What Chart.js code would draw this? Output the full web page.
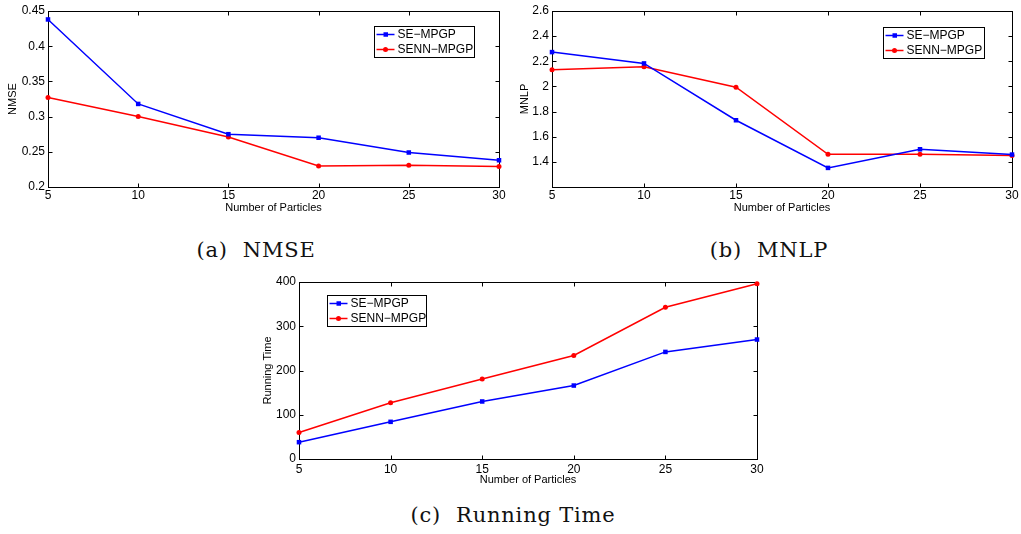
<!DOCTYPE html>
<html>
<head>
<meta charset="utf-8">
<script src="https://cdn.jsdelivr.net/npm/chart.js@4/dist/chart.umd.min.js"></script>
<style>
  html, body { margin: 0; padding: 0; background: #fff; }
  body { position: relative; width: 1021px; height: 534px; overflow: hidden; }
  canvas { position: absolute; }
  .cap {
    position: absolute; transform: translateX(-50%); white-space: pre;
    font-family: "DejaVu Serif", "Liberation Serif", serif; font-size: 21px;
    letter-spacing: 0.8px; line-height: 22px; color: #111;
  }
</style>
</head>
<body>
<canvas id="chNmse" width="510" height="222" style="left:0;top:0"></canvas>
<canvas id="chMnlp" width="511" height="222" style="left:510px;top:0"></canvas>
<canvas id="chTime" width="520" height="222" style="left:250px;top:270px"></canvas>
<div class="cap" style="left:256px;top:239px">(a)  NMSE</div>
<div class="cap" style="left:769px;top:239px">(b)  MNLP</div>
<div class="cap" style="left:513px;top:504px">(c)  Running Time</div>
<script>
// Número de partículas en el eje x, común a las tres figuras
const particles = [5, 10, 15, 20, 25, 30];

// (a) NMSE
const nmseSE   = [0.438, 0.318, 0.275, 0.270, 0.249, 0.238];
const nmseSENN = [0.327, 0.300, 0.271, 0.230, 0.231, 0.229];

// (b) MNLP
const mnlpSE   = [2.273, 2.183, 1.731, 1.352, 1.500, 1.458];
const mnlpSENN = [2.132, 2.156, 1.994, 1.460, 1.460, 1.450];

// (c) Running Time
const timeSE   = [38, 84, 130, 166, 242, 270];
const timeSENN = [60, 127, 181, 234, 343, 396];

const SANS = '"Liberation Sans", Arial, sans-serif';
const BLUE = '#0000ff';
const RED = '#ff0000';

const pts = (ys) => particles.map((x, i) => ({ x, y: ys[i] }));

// Caja tipo MATLAB: marco negro y marcas de tick hacia adentro en los cuatro lados
const boxPlugin = {
  id: 'boxFrame',
  beforeDatasetsDraw(chart) {
    const { ctx, chartArea: a, scales: { x, y } } = chart;
    const L = 4;
    const l = Math.round(a.left) + 0.5, r = Math.round(a.right) + 0.5;
    const t = Math.round(a.top) + 0.5, b = Math.round(a.bottom) + 0.5;
    ctx.save();
    ctx.strokeStyle = '#000';
    ctx.lineWidth = 1;
    ctx.beginPath();
    for (const tk of x.ticks) {
      const px = Math.round(x.getPixelForValue(tk.value)) + 0.5;
      ctx.moveTo(px, b); ctx.lineTo(px, b - L);
      ctx.moveTo(px, t); ctx.lineTo(px, t + L);
    }
    for (const tk of y.ticks) {
      const py = Math.round(y.getPixelForValue(tk.value)) + 0.5;
      ctx.moveTo(l, py); ctx.lineTo(l + L, py);
      ctx.moveTo(r, py); ctx.lineTo(r - L, py);
    }
    ctx.stroke();
    ctx.strokeRect(l, t, r - l, b - t);
    ctx.restore();
  }
};

// Leyenda dentro del área del gráfico, con recuadro
const legendPlugin = {
  id: 'boxLegend',
  afterDraw(chart, args, opts) {
    const { ctx, chartArea: a } = chart;
    const w = opts.width || 100, h = 31;
    const left = Math.round(opts.side === 'right' ? a.right - opts.dx - w : a.left + opts.dx) + 0.5;
    const top = Math.round(a.top + opts.dy) + 0.5;
    ctx.save();
    ctx.fillStyle = '#fff';
    ctx.fillRect(left, top, w, h);
    ctx.strokeStyle = '#000';
    ctx.lineWidth = 1;
    ctx.strokeRect(left, top, w, h);
    ctx.font = '12px ' + SANS;
    ctx.textBaseline = 'middle';
    chart.data.datasets.forEach((ds, i) => {
      const cy = top + 8 + i * 15;
      ctx.strokeStyle = ds.borderColor;
      ctx.lineWidth = ds.borderWidth;
      ctx.beginPath();
      ctx.moveTo(left + 2, cy);
      ctx.lineTo(left + 20, cy);
      ctx.stroke();
      ctx.fillStyle = ds.borderColor;
      if (ds.pointStyle === 'rect') {
        ctx.fillRect(left + 9, cy - 2.25, 4.5, 4.5);
      } else {
        ctx.beginPath();
        ctx.arc(left + 11, cy, 2.5, 0, Math.PI * 2);
        ctx.fill();
      }
      ctx.fillStyle = '#000';
      ctx.fillText(ds.label, left + 23, cy + 0.5);
    });
    ctx.restore();
  }
};

function serie(label, ys, color, style) {
  return {
    label, data: pts(ys),
    borderColor: color, backgroundColor: color,
    borderWidth: 1.5,
    pointStyle: style,
    pointRadius: style === 'rect' ? 3.2 : 2.5,
    pointBorderWidth: 0,
    tension: 0,
    clip: false
  };
}

function figura(id, cfg) {
  return new Chart(document.getElementById(id), {
    type: 'line',
    data: {
      datasets: [
        serie('SE\u2212MPGP', cfg.se, BLUE, 'rect'),
        serie('SENN\u2212MPGP', cfg.senn, RED, 'circle')
      ]
    },
    options: {
      responsive: false,
      animation: false,
      events: [],
      layout: { padding: { top: cfg.padTop, right: cfg.padRight, left: 0, bottom: 0 } },
      plugins: {
        legend: { display: false },
        tooltip: { enabled: false },
        boxLegend: cfg.legend
      },
      scales: {
        x: {
          type: 'linear', min: 5, max: 30,
          afterFit: (s) => { s.height = cfg.xHeight; },
          grid: { display: false, drawTicks: false }, border: { display: false },
          ticks: { stepSize: 5, color: '#000', padding: cfg.xTickPad, maxRotation: 0,
                   font: { family: SANS, size: 12 } },
          title: { display: true, text: 'Number of Particles', color: '#000',
                   font: { family: SANS, size: 11 }, padding: { top: 0, bottom: cfg.xTitlePad } }
        },
        y: {
          min: cfg.yMin, max: cfg.yMax,
          afterFit: (s) => { s.width = cfg.yWidth; },
          grid: { display: false, drawTicks: false }, border: { display: false },
          ticks: { stepSize: cfg.yStep, color: '#000', padding: 3,
                   font: { family: SANS, size: 12 }, callback: cfg.yFmt },
          title: { display: true, text: cfg.yTitle, color: '#000',
                   font: { family: SANS, size: 11 }, padding: { top: cfg.yTitlePad, bottom: 0 } }
        }
      }
    },
    plugins: [boxPlugin, legendPlugin]
  });
}

figura('chNmse', {
  se: nmseSE, senn: nmseSENN,
  yMin: 0.2, yMax: 0.45, yStep: 0.05, yTitle: 'NMSE',
  yFmt: (v) => String(+v.toFixed(3)),
  padTop: 11, padRight: 11, yWidth: 48, xHeight: 35,
  xTickPad: 1, xTitlePad: 7, yTitlePad: 6,
  legend: { side: 'right', dx: 25, dy: 15, width: 100 }
});

figura('chMnlp', {
  se: mnlpSE, senn: mnlpSENN,
  yMin: 1.2, yMax: 2.6, yStep: 0.2, yTitle: 'MNLP',
  yFmt: (v) => (v < 1.3 ? '' : String(+v.toFixed(2))),
  padTop: 11, padRight: 9, yWidth: 42, xHeight: 35,
  xTickPad: 1, xTitlePad: 7, yTitlePad: 8,
  legend: { side: 'right', dx: 28, dy: 16, width: 101 }
});

figura('chTime', {
  se: timeSE, senn: timeSENN,
  yMin: 0, yMax: 400, yStep: 100, yTitle: 'Running Time',
  yFmt: (v) => String(v),
  padTop: 12, padRight: 13, yWidth: 49, xHeight: 33,
  xTickPad: 3, xTitlePad: 5, yTitlePad: 11,
  legend: { side: 'left', dx: 28, dy: 13, width: 99 }
});
</script>
</body>
</html>
